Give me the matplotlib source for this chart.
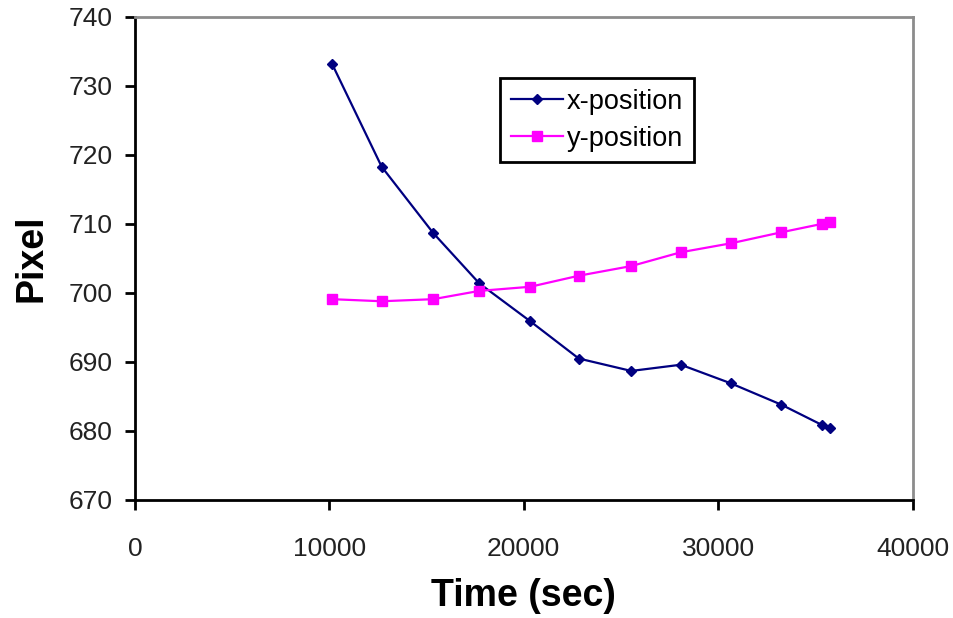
import matplotlib.pyplot as plt

plt.rcParams['font.family'] = ['Liberation Sans', 'DejaVu Sans']

# tracked position of the spot over time
time_sec = [10140, 12690, 15340, 17710, 20335, 22830, 25530, 28080, 30660, 33260, 35320, 35730]
x_pos = [733.2, 718.3, 708.7, 701.4, 695.9, 690.5, 688.7, 689.6, 686.9, 683.8, 680.9, 680.5]
y_pos = [699.1, 698.8, 699.1, 700.3, 700.9, 702.5, 703.9, 705.9, 707.2, 708.8, 710.0, 710.3]

fig = plt.figure(figsize=(9.54, 6.18), dpi=100)
ax = fig.add_axes([0.1415, 0.191, 0.815, 0.7815])

ax.plot(time_sec, x_pos, color='#000080', lw=1.6, marker='D', ms=5,
        label='x-position')
ax.plot(time_sec, y_pos, color='#FF00FF', lw=1.6, marker='s', ms=7.5,
        label='y-position')

ax.set_xlim(0, 40000)
ax.set_ylim(670, 740)
ax.set_xticks(range(0, 40001, 10000))
ax.set_yticks(range(670, 741, 10))

for side in ['left', 'bottom']:
    ax.spines[side].set_linewidth(2)
    ax.spines[side].set_color('black')
for side in ['top', 'right']:
    ax.spines[side].set_linewidth(2)
    ax.spines[side].set_color('#8c8c8c')

ax.tick_params(axis='both', direction='out', length=7, width=2,
               labelsize=19, colors='black', labelcolor='#222222')
ax.tick_params(axis='x', pad=20)
ax.tick_params(axis='y', pad=9)

ax.set_xlabel('Time (sec)', fontsize=27, fontweight='bold', labelpad=12)
ax.set_ylabel('Pixel', fontsize=27, fontweight='bold', labelpad=14)

leg = ax.legend(loc='upper left', bbox_to_anchor=(0.47, 0.874), fontsize=19.5,
                fancybox=False, framealpha=1, edgecolor='black',
                borderaxespad=0, handlelength=1.9, handletextpad=0.15,
                borderpad=0.4, labelspacing=0.4)
leg.get_frame().set_linewidth(2)

fig.savefig('out.png', dpi=100)
